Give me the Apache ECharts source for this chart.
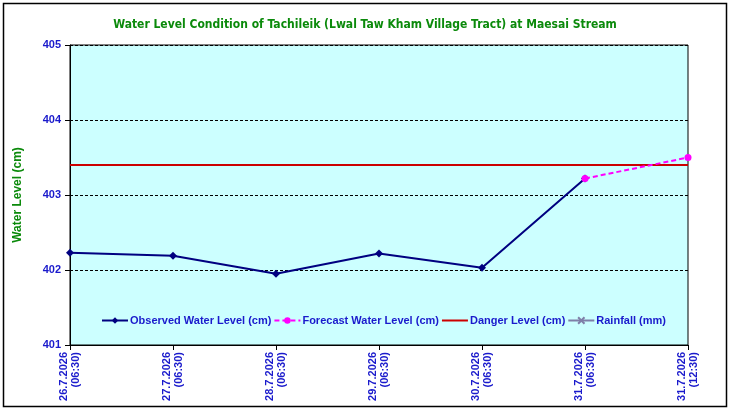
<!DOCTYPE html>
<html>
<head>
<meta charset="utf-8">
<script src="https://cdn.jsdelivr.net/npm/echarts@6/dist/echarts.min.js"></script>
<style>
  html, body { margin: 0; padding: 0; background: #fff; }
  #main { width: 730px; height: 411px; }
</style>
</head>
<body>
<div id="main"></div>
<script>
// dates on the x axis
const categories = [
  "26.7.2026\n(06:30)",
  "27.7.2026\n(06:30)",
  "28.7.2026\n(06:30)",
  "29.7.2026\n(06:30)",
  "30.7.2026\n(06:30)",
  "31.7.2026\n(06:30)",
  "31.7.2026\n(12:30)"
];
const observed = [402.23, 402.19, 401.95, 402.22, 402.03, 403.22, null];
const forecast = [null, null, null, null, null, 403.22, 403.5];
const danger = [403.4, 403.4, 403.4, 403.4, 403.4, 403.4, 403.4];
const rainfall = [];

const BLUE = "#1a1acc";
const GREEN = "#0b8a0b";

const myChart = echarts.init(document.getElementById("main"));
myChart.setOption({
  animation: false,
  backgroundColor: "#fff",
  title: {
    text: "Water Level Condition of Tachileik (Lwal Taw Kham Village Tract) at Maesai Stream",
    left: "center",
    top: 14,
    textStyle: {
      color: GREEN,
      fontFamily: "DejaVu Sans Condensed, DejaVu Sans",
      fontWeight: "bold",
      fontSize: 12
    }
  },
  graphic: [{
    type: "rect",
    shape: { x: 3.5, y: 3.5, width: 723, height: 403 },
    style: { fill: null, stroke: "#000", lineWidth: 1.5 },
    z: -1
  }],
  legend: {
    bottom: 80,
    left: 96,
    itemWidth: 26,
    itemHeight: 8,
    itemGap: 2,
    textStyle: {
      color: BLUE,
      fontFamily: "Liberation Sans, Arial",
      fontWeight: "bold",
      fontSize: 11,
      padding: [0, 0, 0, -3]
    },
    data: [
      "Observed Water Level (cm)",
      "Forecast Water Level (cm)",
      { name: "Danger Level (cm)", itemStyle: { opacity: 0 } },
      "Rainfall (mm)"
    ]
  },
  grid: {
    left: 70,
    right: 42,
    top: 45,
    bottom: 66,
    show: true,
    backgroundColor: "#ccffff",
    borderColor: "#000",
    borderWidth: 1
  },
  xAxis: {
    type: "category",
    data: categories,
    boundaryGap: false,
    axisLine: { lineStyle: { color: "#000", width: 1 } },
    axisTick: { alignWithLabel: true, length: 5, lineStyle: { color: "#000" } },
    axisLabel: {
      rotate: 90,
      margin: 7,
      color: BLUE,
      fontFamily: "Liberation Sans, Arial",
      fontWeight: "bold",
      fontSize: 11,
      lineHeight: 12
    }
  },
  yAxis: {
    type: "value",
    name: "Water Level (cm)",
    nameLocation: "middle",
    nameGap: 46,
    nameTextStyle: {
      color: GREEN,
      fontFamily: "Liberation Sans, Arial",
      fontWeight: "bold",
      fontSize: 12
    },
    min: 401,
    max: 405,
    interval: 1,
    axisLine: { show: true, lineStyle: { color: "#000", width: 1 } },
    axisTick: { show: true, length: 5, lineStyle: { color: "#000" } },
    axisLabel: {
      color: BLUE,
      fontFamily: "Liberation Sans, Arial",
      fontWeight: "bold",
      fontSize: 11,
      margin: 9
    },
    splitLine: { lineStyle: { color: "#000", type: [3, 2], width: 1 } }
  },
  series: [
    {
      name: "Observed Water Level (cm)",
      type: "line",
      data: observed,
      color: "#000080",
      symbol: "diamond",
      symbolSize: 8,
      lineStyle: { width: 2, color: "#000080" },
      itemStyle: { color: "#000080" },
      z: 3
    },
    {
      name: "Forecast Water Level (cm)",
      type: "line",
      data: forecast,
      color: "#ff00ff",
      symbol: "circle",
      symbolSize: 7,
      lineStyle: { width: 2, type: [5, 3], color: "#ff00ff" },
      itemStyle: { color: "#ff00ff" },
      z: 4
    },
    {
      name: "Danger Level (cm)",
      type: "line",
      data: danger,
      color: "#cc0000",
      symbol: "none",
      lineStyle: { width: 2, color: "#cc0000" },
      z: 2
    },
    {
      name: "Rainfall (mm)",
      type: "line",
      data: rainfall,
      color: "#7f7fa8",
      symbol: "path://M0,0L10,10M10,0L0,10",
      symbolSize: 8,
      lineStyle: { width: 2, color: "#7f7fa8" },
      itemStyle: { color: "#7f7fa8", borderColor: "#7f7fa8", borderWidth: 1.5 }
    }
  ]
});
</script>
</body>
</html>
